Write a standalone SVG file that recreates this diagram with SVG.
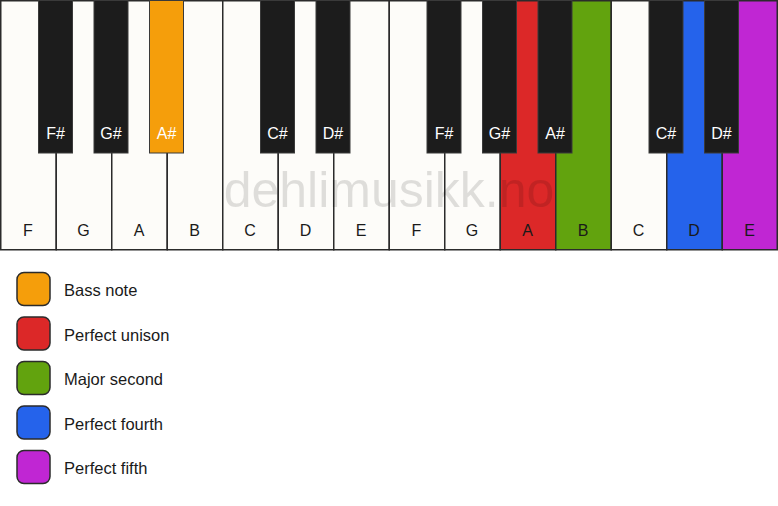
<svg xmlns="http://www.w3.org/2000/svg" width="778" height="506" viewBox="0 0 778 506">
<style>
.w{stroke:#2b2b2b;stroke-width:1.5}
.b{stroke:#3a3a3a;stroke-width:1}
.lw{font-family:"Liberation Sans",Arial,sans-serif;font-size:16px;fill:#1a1a1a;text-anchor:middle}
.lb{font-family:"Liberation Sans",Arial,sans-serif;font-size:16px;fill:#ffffff;text-anchor:middle}
.lg{font-family:"Liberation Sans",Arial,sans-serif;font-size:16.5px;fill:#1a1a1a}
.sw{stroke:#2b2b2b;stroke-width:1.5}
</style>
<rect width="778" height="506" fill="#ffffff"/>
<g id="white-keys">
<g id="wk-F1"><rect class="w" x="0.75" y="0.75" width="55.5" height="249" fill="#fdfcf9"/><text class="lw" x="28" y="236">F</text></g>
<g id="wk-G1"><rect class="w" x="56.25" y="0.75" width="55.5" height="249" fill="#fdfcf9"/><text class="lw" x="83.5" y="236">G</text></g>
<g id="wk-A1"><rect class="w" x="111.75" y="0.75" width="55.5" height="249" fill="#fdfcf9"/><text class="lw" x="139" y="236">A</text></g>
<g id="wk-B1"><rect class="w" x="167.25" y="0.75" width="55.5" height="249" fill="#fdfcf9"/><text class="lw" x="194.5" y="236">B</text></g>
<g id="wk-C1"><rect class="w" x="222.75" y="0.75" width="55.5" height="249" fill="#fdfcf9"/><text class="lw" x="250" y="236">C</text></g>
<g id="wk-D1"><rect class="w" x="278.25" y="0.75" width="55.5" height="249" fill="#fdfcf9"/><text class="lw" x="305.5" y="236">D</text></g>
<g id="wk-E1"><rect class="w" x="333.75" y="0.75" width="55.5" height="249" fill="#fdfcf9"/><text class="lw" x="361" y="236">E</text></g>
<g id="wk-F2"><rect class="w" x="389.25" y="0.75" width="55.5" height="249" fill="#fdfcf9"/><text class="lw" x="416.5" y="236">F</text></g>
<g id="wk-G2"><rect class="w" x="444.75" y="0.75" width="55.5" height="249" fill="#fdfcf9"/><text class="lw" x="472" y="236">G</text></g>
<g id="wk-A2"><rect class="w" x="500.25" y="0.75" width="55.5" height="249" fill="#dc2828"/><text class="lw" x="527.5" y="236">A</text></g>
<g id="wk-B2"><rect class="w" x="555.75" y="0.75" width="55.5" height="249" fill="#62a30e"/><text class="lw" x="583" y="236">B</text></g>
<g id="wk-C2"><rect class="w" x="611.25" y="0.75" width="55.5" height="249" fill="#fdfcf9"/><text class="lw" x="638.5" y="236">C</text></g>
<g id="wk-D2"><rect class="w" x="666.75" y="0.75" width="55.5" height="249" fill="#2563eb"/><text class="lw" x="694" y="236">D</text></g>
<g id="wk-E2"><rect class="w" x="722.25" y="0.75" width="55" height="249" fill="#c026d3"/><text class="lw" x="749.5" y="236">E</text></g>
</g>
<text x="389" y="207" font-family="'Liberation Sans',Arial,sans-serif" font-size="50" fill="#000" fill-opacity="0.12" text-anchor="middle">dehlimusikk.no</text>
<g id="black-keys">
<g id="bk-Fs1"><rect class="b" x="38.5" y="0.5" width="34" height="152.5" fill="#1c1c1c"/><text class="lb" x="55.5" y="139">F#</text></g>
<g id="bk-Gs1"><rect class="b" x="94" y="0.5" width="34" height="152.5" fill="#1c1c1c"/><text class="lb" x="111" y="139">G#</text></g>
<g id="bk-As1"><rect class="b" x="149.5" y="0.5" width="34" height="152.5" fill="#f59e0b"/><text class="lb" x="166.5" y="139">A#</text></g>
<g id="bk-Cs1"><rect class="b" x="260.5" y="0.5" width="34" height="152.5" fill="#1c1c1c"/><text class="lb" x="277.5" y="139">C#</text></g>
<g id="bk-Ds1"><rect class="b" x="316" y="0.5" width="34" height="152.5" fill="#1c1c1c"/><text class="lb" x="333" y="139">D#</text></g>
<g id="bk-Fs2"><rect class="b" x="427" y="0.5" width="34" height="152.5" fill="#1c1c1c"/><text class="lb" x="444" y="139">F#</text></g>
<g id="bk-Gs2"><rect class="b" x="482.5" y="0.5" width="34" height="152.5" fill="#1c1c1c"/><text class="lb" x="499.5" y="139">G#</text></g>
<g id="bk-As2"><rect class="b" x="538" y="0.5" width="34" height="152.5" fill="#1c1c1c"/><text class="lb" x="555" y="139">A#</text></g>
<g id="bk-Cs2"><rect class="b" x="649" y="0.5" width="34" height="152.5" fill="#1c1c1c"/><text class="lb" x="666" y="139">C#</text></g>
<g id="bk-Ds2"><rect class="b" x="704.5" y="0.5" width="34" height="152.5" fill="#1c1c1c"/><text class="lb" x="721.5" y="139">D#</text></g>
</g>
<g id="connectors"></g>
<g id="legend">
<g id="leg-bass"><rect class="sw" x="17" y="272.5" width="33" height="33" rx="7" fill="#f59e0b"/><text class="lg" x="64" y="296">Bass note</text></g>
<g id="leg-unison"><rect class="sw" x="17" y="317" width="33" height="33" rx="7" fill="#dc2828"/><text class="lg" x="64" y="340.5">Perfect unison</text></g>
<g id="leg-second"><rect class="sw" x="17" y="361.5" width="33" height="33" rx="7" fill="#62a30e"/><text class="lg" x="64" y="385">Major second</text></g>
<g id="leg-fourth"><rect class="sw" x="17" y="406" width="33" height="33" rx="7" fill="#2563eb"/><text class="lg" x="64" y="429.5">Perfect fourth</text></g>
<g id="leg-fifth"><rect class="sw" x="17" y="450.5" width="33" height="33" rx="7" fill="#c026d3"/><text class="lg" x="64" y="474">Perfect fifth</text></g>
</g>
</svg>
